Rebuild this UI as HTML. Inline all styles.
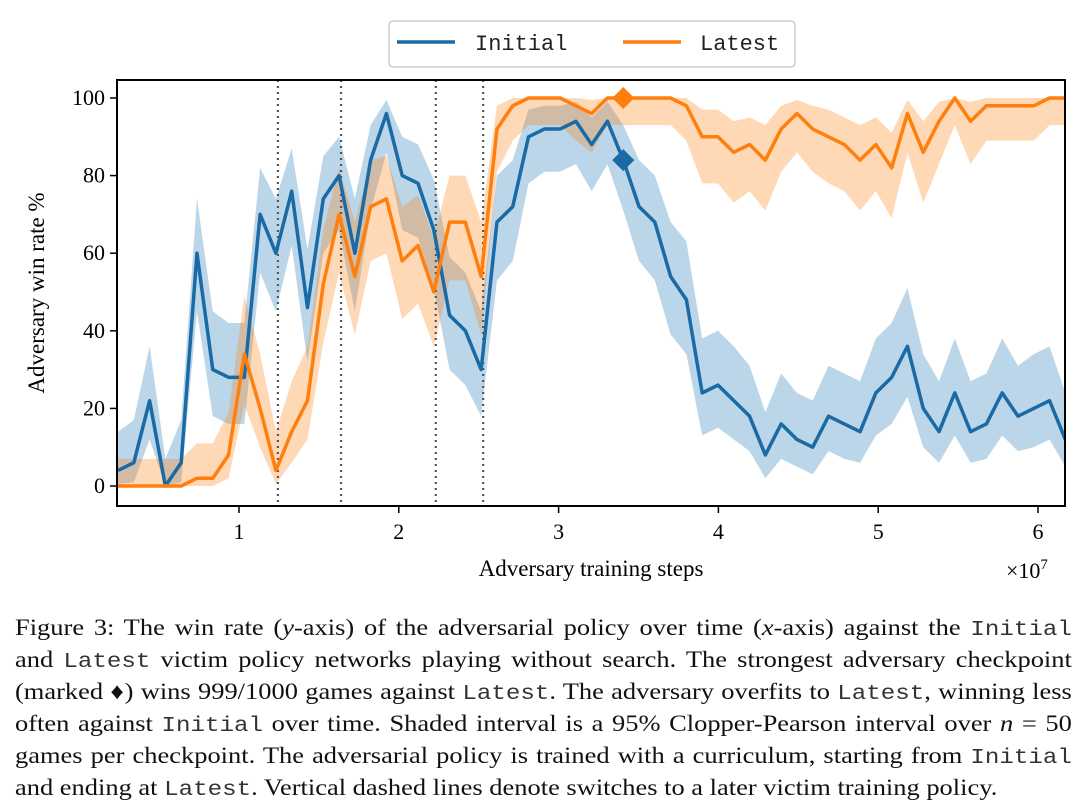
<!DOCTYPE html>
<html><head><meta charset="utf-8">
<style>
body{margin:0;background:#fff;width:1080px;height:799px;overflow:hidden;font-family:"Liberation Serif",serif;}
#cap{position:absolute;left:15px;top:614px;width:919px;font-size:23px;line-height:28.9px;color:#111;transform:scaleX(1.15);transform-origin:0 0;}
#cap div{text-align:justify;text-align-last:justify;white-space:nowrap;}
#cap div.last{text-align-last:left;}
#cap code{font-family:"Liberation Mono",monospace;font-size:21px;color:#333;}
</style></head><body>
<svg id="chart" width="1080" height="610" style="position:absolute;left:0;top:0" xmlns="http://www.w3.org/2000/svg"></svg>
<div id="cap">
<div style="white-space:normal">Figure 3: The win rate (<i>y</i>-axis) of the adversarial policy over time (<i>x</i>-axis) against the <code>Initial</code></div>
<div style="white-space:normal">and <code>Latest</code> victim policy networks playing without search. The strongest adversary checkpoint</div>
<div style="white-space:normal">(marked ♦) wins 999/1000 games against <code>Latest</code>. The adversary overfits to <code>Latest</code>, winning less</div>
<div style="white-space:normal">often against <code>Initial</code> over time. Shaded interval is a 95% Clopper-Pearson interval over <i>n</i> = 50</div>
<div style="white-space:normal">games per checkpoint. The adversarial policy is trained with a curriculum, starting from <code>Initial</code></div>
<div class="last">and ending at <code>Latest</code>. Vertical dashed lines denote switches to a later victim training policy.</div>
</div>
<script>
const xStart = 0.243, xStep = 0.0988; // in 1e7 steps
const initialVals = [4,6,22,0,6,60,30,28,28,70,60,76,46,74,80,60,84,96,80,78,66,44,40,30,68,72,90,92,92,94,88,94,84,72,68,54,48,24,26,22,18,8,16,12,10,18,16,14,24,28,36,20,14,24,14,16,24,18,20,22,12];
const initialLow = [0.5,1,12,0,1,45,18,16,16,55,45,62,32,60,66,45,71,86,66,64,51,30,26,18,53,58,78,81,81,83,76,83,71,58,53,39,34,13,15,12,9,2,7,5,3,9,7,6,13,16,23,10,6,13,6,7,13,9,10,12,5];
const initialHigh = [14,17,36,7,17,74,45,42,42,82,74,87,61,85,90,74,93,99.5,90,88,79,59,55,45,80,84,97,98,98,99,95,99,93,84,80,68,63,38,40,36,31,19,29,24,22,31,29,27,38,42,51,34,27,38,27,29,38,31,34,36,24];
const latestVals = [0,0,0,0,0,2,2,8,34,20,4,14,22,52,70,54,72,74,58,62,50,68,68,54,92,98,100,100,100,98,96,100,100,100,100,100,98,90,90,86,88,84,92,96,92,90,88,84,88,82,96,86,94,100,94,98,98,98,98,100,100];
const latestLow = [0,0,0,0,0,0,0,2,21,10,0.5,6,12,37,55,39,58,60,43,47,36,53,53,39,81,89,93,93,93,89,86,93,93,93,93,93,89,78,78,73,76,71,81,86,81,78,76,71,76,69,86,73,83,93,83,89,89,89,89,93,93];
const latestHigh = [7,7,7,7,7,11,11,19,49,34,14,27,36,66,82,68,84,85,72,75,64,80,80,68,98,100,100,100,100,100,99.5,100,100,100,100,100,100,97,97,94,95,93,98,99.5,98,97,95,93,95,91,99.5,94,99,100,99,100,100,100,100,100,100];
const switchIdx = [10,14,20,23];
const bestIdx = 32;
const xTicks = [1,2,3,4,5,6];
const yTicks = [0,20,40,60,80,100];

const NS='http://www.w3.org/2000/svg', svg=document.getElementById('chart');
const L=117,R=1065,T=80,B=506;
const xs=v=>239+(v-1)*159.8;
const ys=v=>486-v*3.88;
const xi=i=>xs(xStart+i*xStep);
function mk(t,a,p){const e=document.createElementNS(NS,t);for(const k in a)e.setAttribute(k,a[k]);(p||svg).appendChild(e);return e;}
const clip=mk('clipPath',{id:'c'});mk('rect',{x:L,y:T,width:R-L,height:B-T},clip);
const g=mk('g',{'clip-path':'url(#c)'});
function band(lo,hi,col,name){
  let d='M'+lo.map((v,i)=>xi(i)+','+ys(v)).join('L');
  for(let i=hi.length-1;i>=0;i--)d+='L'+xi(i)+','+ys(hi[i]);
  const e=mk('path',{d:d+'Z',fill:col,'fill-opacity':0.3,stroke:'none'},g);
  
  
}
function line(v,col,name){
  const e=mk('polyline',{points:v.map((y,i)=>xi(i)+','+ys(y)).join(' '),fill:'none',stroke:col,'stroke-width':3.5,'stroke-linejoin':'round'},g);
  
  
}
band(initialLow,initialHigh,'#1f77b4','initial-ci-band');
band(latestLow,latestHigh,'#ff7f0e','latest-ci-band');
switchIdx.forEach(i=>{
  const e=mk('line',{x1:xi(i)+2,x2:xi(i)+2,y1:T,y2:B,stroke:'#555','stroke-width':2.2,'stroke-dasharray':'2,4'},g);
  
  
});
line(initialVals,'#1a6aa5','initial-line');
line(latestVals,'#ff7f0e','latest-line');
[[initialVals,'#1a6aa5','initial-best-marker'],[latestVals,'#ff7f0e','latest-best-marker']].forEach(([v,c,n])=>{
  const x=xi(bestIdx),y=ys(v[bestIdx]);
  const e=mk('path',{d:`M${x},${y-11}L${x+11},${y}L${x},${y+11}L${x-11},${y}Z`,fill:c});
  
  
});
const frame=mk('rect',{x:L,y:T,width:R-L,height:B-T,fill:'none',stroke:'#000','stroke-width':2});


xTicks.forEach(t=>{
  mk('line',{x1:xs(t),x2:xs(t),y1:B,y2:B+7,stroke:'#000','stroke-width':1.5});
  const e=mk('text',{x:xs(t),y:B+33,'text-anchor':'middle','font-size':22,'font-family':'Liberation Serif, serif'});
  e.textContent=t;
  
  
});
yTicks.forEach(t=>{
  mk('line',{x1:L-7,x2:L,y1:ys(t),y2:ys(t),stroke:'#000','stroke-width':1.5});
  const e=mk('text',{x:L-12,y:ys(t)+7,'text-anchor':'end','font-size':22,'font-family':'Liberation Serif, serif'});
  e.textContent=t;
  
  
});
let e=mk('text',{x:591,y:576,'text-anchor':'middle','font-size':23,'font-family':'Liberation Serif, serif'});
e.textContent='Adversary training steps';


e=mk('text',{x:1006,y:578,'font-size':22,'font-family':'Liberation Serif, serif'});
e.innerHTML='×10<tspan dy="-9" font-size="15">7</tspan>';


e=mk('text',{x:0,y:0,'text-anchor':'middle','font-size':23,'font-family':'Liberation Serif, serif',transform:'translate(44,293) rotate(-90)'});
e.textContent='Adversary win rate %';


const lg=mk('g',{});


mk('rect',{x:389,y:21,width:406,height:46,rx:4,fill:'#fff',stroke:'#ccc','stroke-width':1.5},lg);
mk('line',{x1:397,x2:455,y1:42,y2:42,stroke:'#1a6aa5','stroke-width':3.5},lg);
mk('line',{x1:623,x2:681,y1:42,y2:42,stroke:'#ff7f0e','stroke-width':3.5},lg);
e=mk('text',{x:475,y:50,'font-size':22,'font-family':'Liberation Mono, monospace',fill:'#222'},lg);
e.textContent='Initial';


e=mk('text',{x:700,y:50,'font-size':22,'font-family':'Liberation Mono, monospace',fill:'#222'},lg);
e.textContent='Latest';


</script>
</body></html>
